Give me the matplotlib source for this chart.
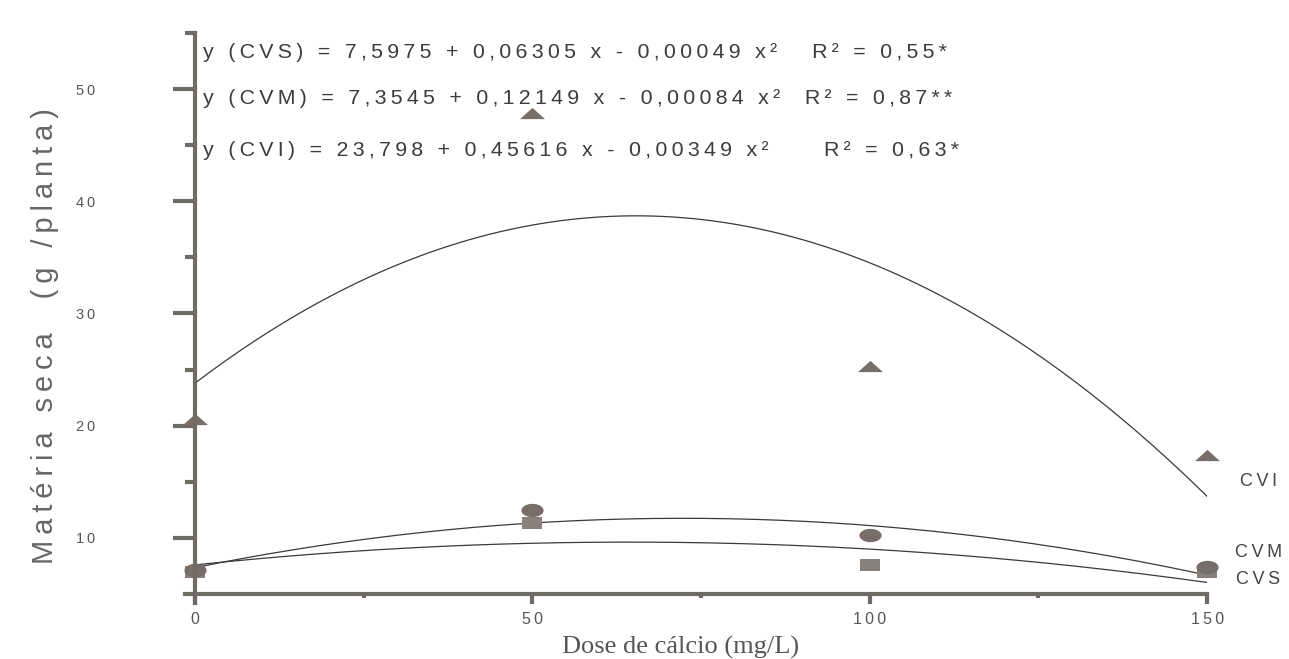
import numpy as np
import matplotlib
matplotlib.use("Agg")
import matplotlib.pyplot as plt

# doses of calcium and measured dry matter per cultivar
doses = [0, 50, 100, 150]
cvi_values = [20.6, 47.9, 25.3, 17.4]
cvm_values = [7.1, 12.5, 10.3, 7.4]
cvs_values = [7.0, 11.3, 7.6, 7.0]

# quadratic fits: intercept, linear, quadratic
cvs_coef = [7.5975, 0.06305, -0.00049]
cvm_coef = [7.3545, 0.12149, -0.00084]
cvi_coef = [23.798, 0.45616, -0.00349]

equations = [
    "y (CVS) = 7,5975 + 0,06305 x - 0,00049 x²   R² = 0,55*",
    "y (CVM) = 7,3545 + 0,12149 x - 0,00084 x²  R² = 0,87**",
    "y (CVI) = 23,798 + 0,45616 x - 0,00349 x²     R² = 0,63*",
]
equation_y = [53.3, 49.2, 44.5]

series_names = ["CVI", "CVM", "CVS"]
series_label_y = [15.0, 8.7, 6.3]

plt.rcParams['font.family'] = ['Liberation Sans', 'DejaVu Sans']

axis_grey = "#6e6a66"
mark_grey = "#786e69"
THIN = "\u2009"


def quad(coef, x):
    return coef[0] + coef[1] * x + coef[2] * x ** 2


def spaced(s):
    # the printed labels are set with loose letter spacing
    return THIN.join(s)


fig = plt.figure(figsize=(12.89, 6.59), dpi=100)
ax = fig.add_axes([0.1435, 0.0986, 0.793, 0.8514])

# flattened marker shapes
tri = [(-1, -0.45), (1, -0.45), (0, 0.45), (-1, -0.45)]
t = np.linspace(0, 2 * np.pi, 40)
ell = list(zip(np.cos(t), 0.6 * np.sin(t)))
rect = [(-1, -0.6), (1, -0.6), (1, 0.6), (-1, 0.6), (-1, -0.6)]

xs = np.linspace(0, 150, 200)
for coef in [cvi_coef, cvm_coef, cvs_coef]:
    ax.plot(xs, quad(coef, xs), color="#3a3a3a", linewidth=0.9)

ax.plot(doses, cvi_values, linestyle="none", marker=tri, markersize=18,
        color=mark_grey, markeredgewidth=0, clip_on=False)
ax.plot(doses, cvs_values, linestyle="none", marker=rect, markersize=15,
        color="#8a807b", markeredgewidth=0, clip_on=False)
ax.plot(doses, cvm_values, linestyle="none", marker=ell, markersize=16,
        color=mark_grey, markeredgewidth=0, clip_on=False)

ax.set_xlim(-1.5, 150)
ax.set_ylim(5, 55)

for side in ["top", "right"]:
    ax.spines[side].set_visible(False)
ax.spines['left'].set_position(('data', 0))
ax.spines['left'].set_bounds(4.2, 55)
for side in ["left", "bottom"]:
    ax.spines[side].set_color(axis_grey)
    ax.spines[side].set_linewidth(3)

ax.set_yticks([10, 20, 30, 40, 50])
ax.set_yticks([15, 25, 35, 45, 55], minor=True)
ax.set_xticks([0, 50, 100, 150])
ax.set_xticks([25, 75, 125], minor=True)
ax.tick_params(axis="y", which="major", length=16, width=3, color=axis_grey,
               labelsize=10.5, labelcolor="#555555", pad=70)
ax.tick_params(axis="y", which="minor", length=7, width=3, color=axis_grey)
ax.tick_params(axis="x", which="major", length=7, width=3, color=axis_grey,
               labelsize=11.5, labelcolor="#555555", pad=6)
ax.tick_params(axis="x", which="minor", length=3, width=3, color=axis_grey)
ax.set_yticklabels([spaced(str(v)) for v in [10, 20, 30, 40, 50]])
for lbl in ax.get_yticklabels():
    lbl.set_horizontalalignment("left")
ax.set_xticklabels([spaced(str(v)) for v in doses])

for text, y in zip(equations, equation_y):
    ax.text(1.2, y, spaced(text), fontsize=15.4, color="#3c3c3c", va="center")

for name, y in zip(series_names, series_label_y):
    ax.text(157.6, y, spaced(name), fontsize=13, color="#444444", ha="center",
            va="center", clip_on=False)

ax.set_xlabel("Dose de cálcio (mg/L)", family="Liberation Serif",
              fontsize=19, color="#555555")
ax.xaxis.set_label_coords(0.485, -0.075)
fig.text(0.035, 0.49, spaced("Matéria seca  (g /planta)"), rotation=90,
         fontsize=21, color="#666666", ha="center", va="center")

fig.savefig("out.png", dpi=100)
